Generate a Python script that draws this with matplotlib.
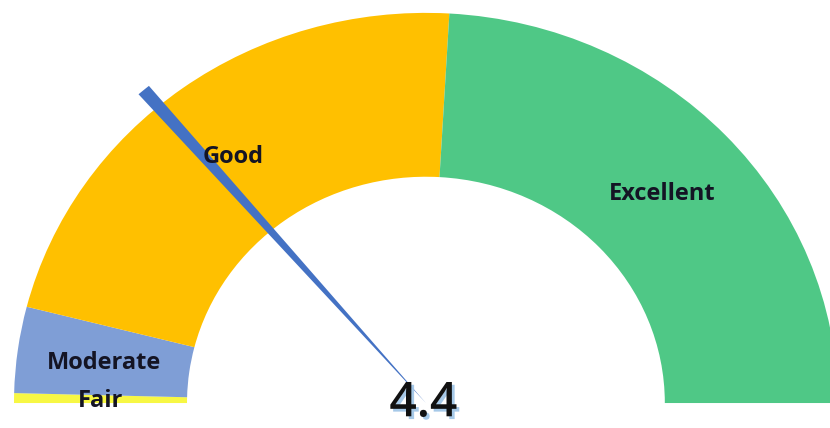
import matplotlib
matplotlib.use("Agg")
import matplotlib.pyplot as plt
import matplotlib.patheffects as pe
from matplotlib.patches import Wedge
import numpy as np

# ---- data ----
categories = ["Fair", "Moderate", "Good", "Excellent"]
segment_values = [0.13, 1.14, 7.02, 7.71]      # gauge band widths (scale 0-16)
segment_colors = ["#F7F744", "#7F9ED6", "#FFC000", "#4FC886"]
needle_value = 4.4
gauge_min = 0.0
gauge_max = sum(segment_values)

# ---- figure ----
fig = plt.figure(figsize=(8.30, 4.28), dpi=100)
ax = fig.add_axes([0, 0, 1, 1])

outer_r = 1.0
ring_w = 0.42
total = gauge_max - gauge_min

# half doughnut: visible bands + invisible bottom half
vals = segment_values + [total]
cols = segment_colors + ["none"]
wedges, _ = ax.pie(vals, colors=cols, startangle=180, counterclock=False,
                   radius=outer_r, wedgeprops=dict(width=ring_w, linewidth=0),
                   normalize=True)
wedges[-1].set_visible(False)

# labels at band mid-angle / mid-radius
mid_r = outer_r - ring_w / 2
cum = np.cumsum([0] + segment_values)
for name, a, b in zip(categories, cum[:-1], cum[1:]):
    frac = ((a + b) / 2 - gauge_min) / total
    ang = np.deg2rad(180 - frac * 180)
    ax.text(mid_r * np.cos(ang), mid_r * np.sin(ang) - 0.006, name,
            ha="center", va="center", fontsize=17, fontweight="bold",
            family=["Open Sans", "DejaVu Sans"], color="#141424", zorder=5)

# needle
nfrac = (needle_value - gauge_min) / total
nang = 180 - nfrac * 180
needle = Wedge((0, 0), 1.055, nang - 0.9, nang + 0.9, facecolor="#4472C4",
               edgecolor="none", zorder=4)
ax.add_patch(needle)

# value text
ax.text(-0.006, -0.034, f"{needle_value}", ha="center", va="baseline", fontsize=34.5,
        fontweight="semibold",
        family=["Open Sans", "DejaVu Sans"], color="#111111", zorder=6,
        path_effects=[pe.withSimplePatchShadow(offset=(2, -2),
                                               shadow_rgbFace="#9DC3E6",
                                               alpha=0.9)])

ax.set_xlim(-1.034, 0.981)
ax.set_ylim(-0.064, 1.033)
ax.set_aspect("auto")
ax.axis("off")

fig.savefig("out.png", dpi=100, facecolor="white")
